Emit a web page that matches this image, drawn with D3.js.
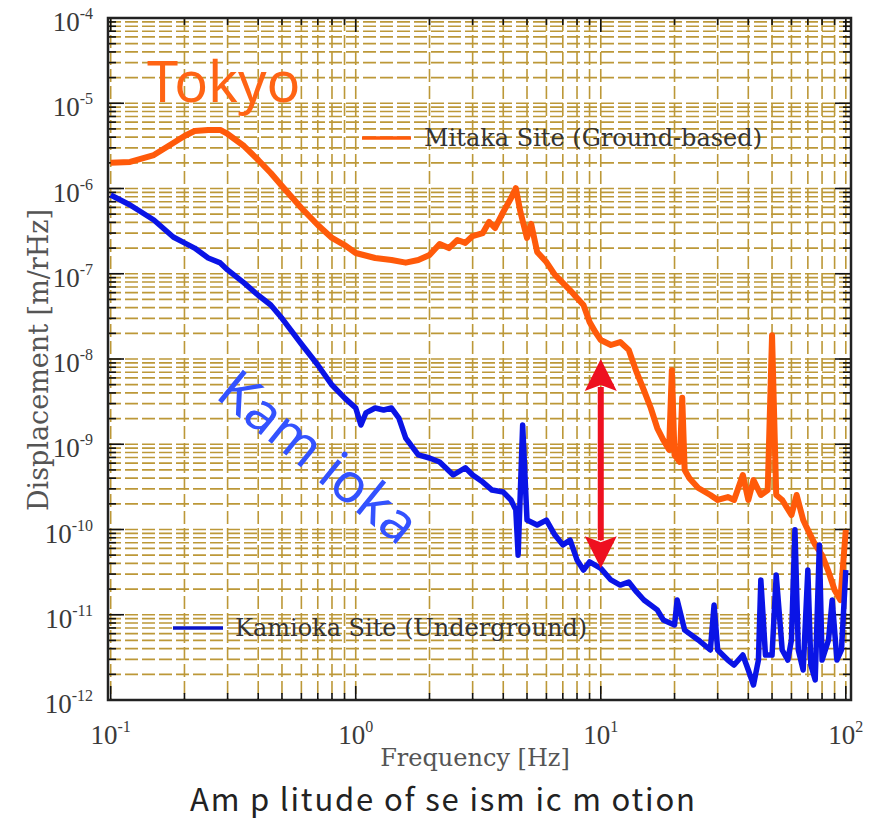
<!DOCTYPE html>
<html>
<head>
<meta charset="utf-8">
<script src="https://cdn.jsdelivr.net/npm/d3@7"></script>
<style>
	body { margin: 0; background: #fff; }
	svg { display: block; }
</style>
</head>
<body>
<svg id="vis" width="877" height="821"></svg>
<script>
// Mitaka site (ground-based) spectrum
const mitakaFreq = [0.1, 0.12, 0.15, 0.18, 0.2, 0.22, 0.25, 0.28, 0.3, 0.35, 0.4, 0.45, 0.5, 0.6, 0.7, 0.8, 0.9,
	1.0, 1.2, 1.4, 1.6, 1.8, 2.0, 2.2, 2.4, 2.6, 2.8, 3.0, 3.3, 3.5, 3.7, 4.0, 4.3, 4.5, 4.7, 5.0, 5.2, 5.5,
	6, 6.5, 7, 7.5, 8, 8.5, 9, 9.5, 10, 11, 12, 13, 14, 15, 16, 17, 18, 19, 19.5, 20, 21, 21.5, 22, 23, 25,
	28, 30, 33, 35, 38, 40, 42, 45, 48, 50, 52, 55, 60, 63, 67, 70, 75, 80, 85, 90, 95, 100];
const mitakaDisp = [2.0e-6, 2.05e-6, 2.47e-6, 3.42e-6, 4.13e-6, 4.72e-6, 4.86e-6, 4.86e-6, 4.36e-6, 3.15e-6,
	2.16e-6, 1.52e-6, 1.07e-6, 5.9e-7, 3.73e-7, 2.63e-7, 2.17e-7,
	1.75e-7, 1.53e-7, 1.45e-7, 1.35e-7, 1.45e-7, 1.66e-7, 2.23e-7, 2.0e-7, 2.49e-7, 2.3e-7, 2.77e-7, 3.0e-7,
	4.05e-7, 3.44e-7, 5.3e-7, 7.7e-7, 1.01e-6, 5.3e-7, 2.63e-7, 3.84e-7, 1.8e-7,
	1.37e-7, 9.7e-8, 7.8e-8, 6.4e-8, 5.2e-8, 4.3e-8, 2.72e-8, 2.07e-8, 1.67e-8, 1.46e-8, 1.58e-8, 1.28e-8,
	7.0e-9, 4.3e-9, 2.66e-9, 1.55e-9, 1.12e-9, 8.6e-10, 7.4e-9, 7.5e-10, 6.2e-10, 3.5e-9, 5.0e-10, 4.0e-10, 3.07e-10,
	2.54e-10, 2.22e-10, 2.4e-10, 2.22e-10, 4.36e-10, 2.22e-10, 3.8e-10, 2.54e-10, 2.9e-10, 1.9e-8, 2.54e-10, 2.22e-10,
	1.48e-10, 2.54e-10, 1.29e-10, 9.9e-11, 6.6e-11, 5.0e-11, 3.2e-11, 1.95e-11, 1.49e-11, 9.9e-11];

// Kamioka site (underground) spectrum
const kamiokaFreq = [0.1, 0.12, 0.15, 0.18, 0.2, 0.22, 0.25, 0.28, 0.3, 0.35, 0.4, 0.45, 0.5, 0.6, 0.7, 0.8, 0.9,
	1.0, 1.05, 1.1, 1.2, 1.3, 1.4, 1.5, 1.6, 1.8, 2.0, 2.2, 2.5, 2.8, 3.0, 3.3, 3.6, 4.0, 4.3, 4.5, 4.6, 4.8,
	5.0, 5.5, 6, 6.5, 7, 7.5, 8, 8.5, 9, 10, 11, 12, 13, 14, 15, 17, 18, 20, 20.5, 22, 25, 28, 29, 30, 33,
	35, 38, 40, 42, 44, 45, 47, 50, 52, 55, 58, 60, 62, 64, 67, 70, 72, 75, 78, 80, 85, 88, 92, 96, 100];
const kamiokaDisp = [8.4e-7, 6.4e-7, 4.27e-7, 2.7e-7, 2.3e-7, 2.0e-7, 1.53e-7, 1.34e-7, 1.11e-7, 7.8e-8, 5.6e-8,
	4.3e-8, 3.0e-8, 1.5e-8, 8.5e-9, 4.95e-9, 3.5e-9,
	2.66e-9, 1.68e-9, 2.33e-9, 2.66e-9, 2.52e-9, 2.66e-9, 2.03e-9, 1.18e-9, 7.5e-10, 6.9e-10, 6.2e-10, 4.36e-10,
	5.3e-10, 4.36e-10, 3.6e-10, 2.9e-10, 2.75e-10, 2.22e-10, 1.7e-10, 5.0e-11, 1.68e-9,
	1.29e-10, 1.13e-10, 1.29e-10, 8.6e-11, 6.6e-11, 7.5e-11, 4.4e-11, 3.35e-11, 4.16e-11, 3.5e-11, 2.56e-11,
	2.23e-11, 2.42e-11, 1.85e-11, 1.49e-11, 1.14e-11, 8.7e-12, 7.6e-12, 1.49e-11, 6.6e-12, 5.06e-12, 3.86e-12,
	1.3e-11, 3.86e-12, 2.94e-12, 2.57e-12, 3.37e-12, 2.25e-12, 1.5e-12, 2.94e-12, 2.56e-11, 3.37e-12, 3.37e-12,
	2.92e-11, 3.86e-12, 2.94e-12, 5.06e-12, 9.9e-11, 3.86e-12, 2.25e-12, 3.35e-11, 2.57e-12, 1.72e-12, 6.6e-11,
	2.94e-12, 5.06e-12, 1.49e-11, 2.94e-12, 3.86e-12, 3.35e-11];

// axis decades and their tick label exponents
const xDecades = [0.1, 1, 10, 100];
const xTickExp = ["-1", "0", "1", "2"];
const yDecades = [1e-4, 1e-5, 1e-6, 1e-7, 1e-8, 1e-9, 1e-10, 1e-11, 1e-12];
const yTickExp = ["-4", "-5", "-6", "-7", "-8", "-9", "-10", "-11", "-12"];

// the red arrow between the two sites at 10 Hz
const arrowFreq = 10;
const arrowTop = 1.0e-8;
const arrowBottom = 3.5e-11;

const svg = d3.select("svg#vis");

const plot = {left: 108, right: 851, top: 18, bottom: 700};

const x = d3.scaleLog()
	.domain([0.0975, 105])
	.range([plot.left, plot.right]);

const y = d3.scaleLog()
	.domain([1e-12, 1e-4])
	.range([plot.bottom, plot.top]);

const gridColor = "#bc9838";
const serif = "'Liberation Serif', 'DejaVu Serif', serif";
const wideSerif = "'DejaVu Serif', serif";

// grid values: 1..9 in every decade
let xGrid = [];
for (let d of xDecades.slice(0, 3)) {
	for (let m = 1; m <= 9; m++) xGrid.push(m * d);
}
xGrid.push(100);

let yGrid = [];
for (let d of yDecades.slice(1)) {
	for (let m = 1; m <= 9; m++) yGrid.push(m * d);
}
yGrid.push(1e-4);

const g = {
	grid: svg.append("g").attr("id", "grid"),
	ticks: svg.append("g").attr("id", "ticks"),
	lines: svg.append("g").attr("id", "lines"),
	labels: svg.append("g").attr("id", "labels"),
	notes: svg.append("g").attr("id", "notes")
};

// dashed gold grid
g.grid.selectAll("line.v")
	.data(xGrid)
	.enter()
	.append("line")
	.attr("class", "v")
	.attr("x1", d => x(d)).attr("x2", d => x(d))
	.attr("y1", plot.top).attr("y2", plot.bottom)
	.attr("stroke", gridColor)
	.attr("stroke-width", 1.6)
	.attr("stroke-dasharray", "13,4");

g.grid.selectAll("line.h")
	.data(yGrid)
	.enter()
	.append("line")
	.attr("class", "h")
	.attr("x1", plot.left).attr("x2", plot.right)
	.attr("y1", d => y(d)).attr("y2", d => y(d))
	.attr("stroke", gridColor)
	.attr("stroke-width", 1.6)
	.attr("stroke-dasharray", "13,4");

// black inward ticks on all four sides
const isMajor = v => Math.abs(Math.log10(v) - Math.round(Math.log10(v))) < 1e-6;

g.ticks.selectAll("line.yl")
	.data(yGrid)
	.enter()
	.append("line")
	.attr("x1", plot.left).attr("x2", d => plot.left + (isMajor(d) ? 16 : 8))
	.attr("y1", d => y(d)).attr("y2", d => y(d));

g.ticks.selectAll("line.yr")
	.data(yGrid)
	.enter()
	.append("line")
	.attr("x1", plot.right).attr("x2", d => plot.right - (isMajor(d) ? 16 : 8))
	.attr("y1", d => y(d)).attr("y2", d => y(d));

g.ticks.selectAll("line.xb")
	.data(xGrid)
	.enter()
	.append("line")
	.attr("x1", d => x(d)).attr("x2", d => x(d))
	.attr("y1", plot.bottom).attr("y2", d => plot.bottom - (isMajor(d) ? 14 : 7));

g.ticks.selectAll("line.xt")
	.data(xGrid)
	.enter()
	.append("line")
	.attr("x1", d => x(d)).attr("x2", d => x(d))
	.attr("y1", plot.top).attr("y2", d => plot.top + (isMajor(d) ? 14 : 7));

g.ticks.selectAll("line")
	.attr("stroke", "#111")
	.attr("stroke-width", 1.6);

g.ticks.append("rect")
	.attr("x", plot.left).attr("y", plot.top)
	.attr("width", plot.right - plot.left)
	.attr("height", plot.bottom - plot.top)
	.attr("fill", "none")
	.attr("stroke", "#222")
	.attr("stroke-width", 2.5);

// tick labels as 10 with a raised exponent
const yLab = g.labels.selectAll("text.ytick")
	.data(yDecades)
	.enter()
	.append("text")
	.attr("class", "ytick")
	.attr("x", 93)
	.attr("y", d => y(d) + 13)
	.attr("text-anchor", "end");
yLab.append("tspan").attr("font-size", 27).text("10");
yLab.append("tspan").attr("font-size", 16).attr("dy", -12).text((d, i) => yTickExp[i]);

const xLab = g.labels.selectAll("text.xtick")
	.data(xDecades)
	.enter()
	.append("text")
	.attr("class", "xtick")
	.attr("x", d => x(d))
	.attr("y", 744)
	.attr("text-anchor", "middle");
xLab.append("tspan").attr("font-size", 27).text("10");
xLab.append("tspan").attr("font-size", 16).attr("dy", -12).text((d, i) => xTickExp[i]);

g.labels.selectAll("text")
	.attr("font-family", serif)
	.attr("fill", "#3a3a3a");

g.labels.append("text")
	.attr("x", 475).attr("y", 766)
	.attr("text-anchor", "middle")
	.attr("font-family", wideSerif)
	.attr("font-size", 24)
	.attr("fill", "#555")
	.text("Frequency [Hz]");

g.labels.append("text")
	.attr("transform", translate(48, 360) + " rotate(-90)")
	.attr("text-anchor", "middle")
	.attr("font-family", wideSerif)
	.attr("font-size", 27)
	.attr("fill", "#555")
	.text("Displacement [m/rHz]");

// the two spectra
const line = d3.line()
	.x(d => d[0])
	.y(d => d[1]);

const series = [
	{freq: mitakaFreq, disp: mitakaDisp, color: "#ff5a0a", width: 6},
	{freq: kamiokaFreq, disp: kamiokaDisp, color: "#0a14e6", width: 5.5}
];

g.lines.selectAll("path")
	.data(series)
	.enter()
	.append("path")
	.attr("d", s => line(s.freq.map((f, i) => [x(f), y(s.disp[i])])))
	.attr("fill", "none")
	.attr("stroke", s => s.color)
	.attr("stroke-width", s => s.width)
	.attr("stroke-linejoin", "round");

// legends
g.notes.append("line")
	.attr("x1", 362).attr("x2", 411).attr("y1", 138).attr("y2", 138)
	.attr("stroke", "#ff5a0a").attr("stroke-width", 3.5);
g.notes.append("text")
	.attr("x", 424).attr("y", 146)
	.attr("font-family", wideSerif).attr("font-size", 24).attr("fill", "#333")
	.text("Mitaka Site (Ground-based)");

g.notes.append("line")
	.attr("x1", 173).attr("x2", 223).attr("y1", 628).attr("y2", 628)
	.attr("stroke", "#0a14c8").attr("stroke-width", 3.5);
g.notes.append("text")
	.attr("x", 235).attr("y", 636)
	.attr("font-family", wideSerif).attr("font-size", 24).attr("fill", "#333")
	.text("Kamioka Site (Underground)");

// big site names
g.notes.append("text")
	.attr("x", 147).attr("y", 102)
	.attr("font-family", "'Noto Sans', sans-serif")
	.attr("font-size", 56)
	.attr("fill", "#ff6414")
	.text("Tokyo");

g.notes.append("text")
	.attr("transform", translate(214, 397) + " rotate(39)")
	.attr("font-family", "'Noto Sans', sans-serif")
	.attr("font-size", 55)
	.attr("fill", "#3352ff")
	.text("Kam ioka");

// red double-headed arrow
const ax = x(arrowFreq), ay1 = y(arrowTop), ay2 = y(arrowBottom);
const head = 32, half = 16;
g.notes.append("line")
	.attr("x1", ax).attr("x2", ax)
	.attr("y1", ay1 + head - 4).attr("y2", ay2 - head + 4)
	.attr("stroke", "#ee1020").attr("stroke-width", 6);
g.notes.append("path")
	.attr("d", `M${ax},${ay1} L${ax - half},${ay1 + head} L${ax},${ay1 + head - 6} L${ax + half},${ay1 + head} Z`)
	.attr("fill", "#ee1020");
g.notes.append("path")
	.attr("d", `M${ax},${ay2} L${ax - half},${ay2 - head} L${ax},${ay2 - head + 6} L${ax + half},${ay2 - head} Z`)
	.attr("fill", "#ee1020");

// caption below the chart
svg.append("text")
	.attr("x", 190).attr("y", 811)
	.attr("font-family", "'Noto Sans CJK JP', sans-serif")
	.attr("font-size", 31)
	.attr("textLength", 505)
	.attr("lengthAdjust", "spacing")
	.attr("fill", "#222")
	.text("Am p litude of se ism ic m otion");

//Helper
function translate(x, y) {
	return "translate(" + x + "," + y + ")";
}
</script>
</body>
</html>
